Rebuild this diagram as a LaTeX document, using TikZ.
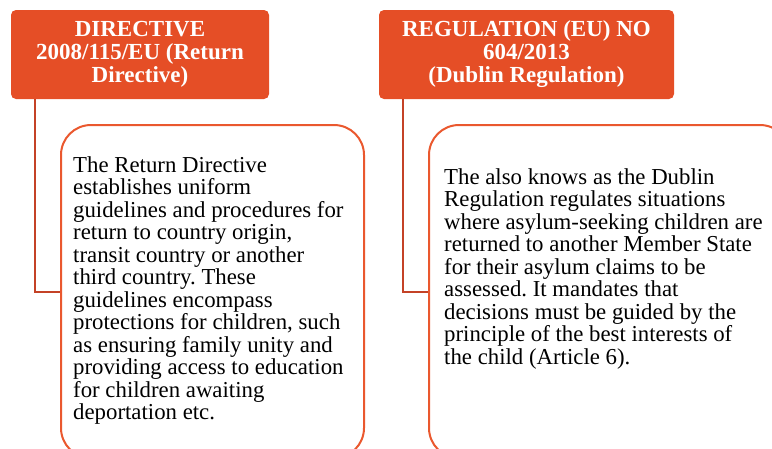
\documentclass[tikz,border=0pt]{standalone}
\usepackage{fontspec}
\setmainfont{Liberation Serif}
\usetikzlibrary{positioning}
\definecolor{headorange}{RGB}{229,78,38}
\definecolor{boxorange}{RGB}{234,88,46}
\definecolor{linkred}{RGB}{196,66,38}
\frenchspacing
\begin{document}
\begin{tikzpicture}[x=1pt,y=-1pt,
	head/.style={fill=headorange, rounded corners=5pt, text=white, align=center, inner sep=0pt,
		font=\fontsize{23}{23}\selectfont\bfseries, minimum height=89pt},
	body/.style={draw=boxorange, line width=2pt, rounded corners=30pt, minimum height=333pt},
	bodytext/.style={font=\fontsize{22.8}{22.5}\selectfont, align=left, inner sep=0pt},
	link/.style={draw=linkred, line width=2pt}]
	\useasboundingbox (0,0) rectangle (772,448);
	\clip (0,0) rectangle (772,448);
	% headers
	\node[head, minimum width=258pt] (dirhead) at (140,54.5) {DIRECTIVE\\2008/115/EU (Return\\Directive)};
	\node[head, minimum width=295pt] (reghead) at (526.5,54.5) {REGULATION (EU) NO\\604/2013\\(Dublin Regulation)};
	% boxes
	\node[body, minimum width=303pt] (dirbody) at (212.5,291.5) {};
	\node[body, minimum width=361pt] (regbody) at (609.5,291.5) {};
	\node[bodytext, below right=32pt and 13pt of dirbody.north west] (dirtext)
		{The Return Directive\\establishes uniform\\guidelines and procedures for\\return to country origin,\\transit country or another\\third country. These\\guidelines encompass\\protections for children, such\\as ensuring family unity and\\providing access to education\\for children awaiting\\deportation etc.};
	\node[bodytext, below right=44pt and 16pt of regbody.north west] (regtext)
		{The also knows as the Dublin\\Regulation regulates situations\\where asylum-seeking children are\\returned to another Member State\\for their asylum claims to be\\assessed. It mandates that\\decisions must be guided by the\\principle of the best interests of\\the child (Article 6).};
	% links
	\draw[link] ([xshift=24pt]dirhead.south west) |- (dirbody.west);
	\draw[link] ([xshift=24pt]reghead.south west) |- (regbody.west);
\end{tikzpicture}
\end{document}
